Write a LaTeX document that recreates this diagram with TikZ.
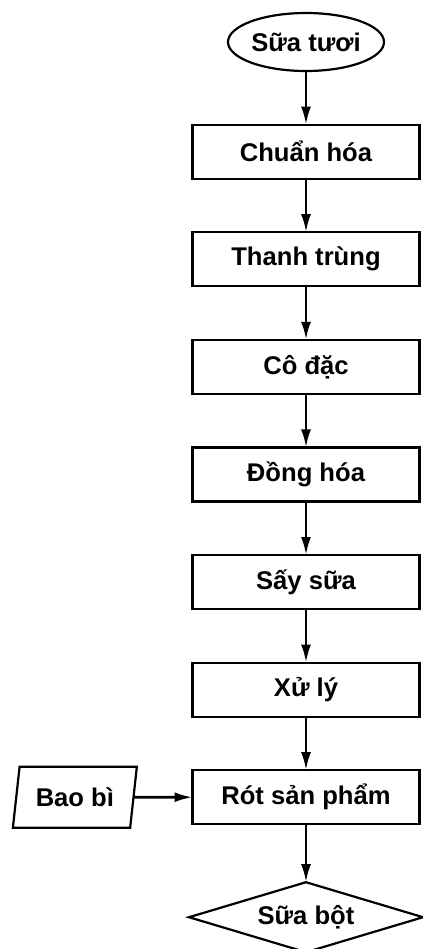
\documentclass[tikz,border=0pt]{standalone}
\usepackage{fontspec}
\setmainfont{Liberation Sans}
\usepackage{tikz}
\usetikzlibrary{positioning, shapes.geometric, arrows.meta}
\tikzstyle{arrow} = [line width=1.3pt, -{Latex[length=9pt, width=5pt]}]

\begin{document}
\begin{tikzpicture}[x=0.5pt, y=-0.5pt, node distance=26.8pt,
    box/.style={rectangle, draw, line width=1.1pt, outer sep=0pt, minimum width=113.5pt, minimum height=27pt, inner sep=0pt, font=\bfseries\fontsize{12.8}{15}\selectfont},
    start/.style={ellipse, draw, line width=1.1pt, outer sep=0pt, minimum width=78pt, minimum height=29pt, inner sep=0pt, font=\bfseries\fontsize{12.8}{15}\selectfont},
    input/.style={trapezium, draw, line width=1.1pt, outer sep=0pt, trapezium left angle=76, trapezium right angle=104, trapezium stretches=true, minimum width=62pt, minimum height=30.5pt, inner sep=0pt, font=\bfseries\fontsize{12.8}{15}\selectfont},
    product/.style={diamond, draw, line width=1.1pt, outer sep=0pt, aspect=3.3, minimum width=117pt, minimum height=35pt, inner sep=0pt, font=\bfseries\fontsize{12.8}{15}\selectfont}]
    \useasboundingbox (0,0) rectangle (423,949);

    % Main line
    \node[start] (milk) at (306,42) {Sữa tươi};
    \node[box, below=of milk] (standard) {Chuẩn hóa};
    \node[box, below=of standard] (pasteur) {Thanh trùng};
    \node[box, below=of pasteur] (concentrate) {Cô đặc};
    \node[box, below=of concentrate] (homog) {Đồng hóa};
    \node[box, below=of homog] (dry) {Sấy sữa};
    \node[box, below=of dry] (treat) {Xử lý};
    \node[box, below=of treat] (filling) {Rót sản phẩm};
    \node[product, below=29pt of filling] (powder) {Sữa bột};

    % Packaging input
    \node[input, left=29.5pt of filling] (pack) {Bao bì};

    % Arrows
    \draw[arrow] (milk) -- (standard);
    \draw[arrow] (standard) -- (pasteur);
    \draw[arrow] (pasteur) -- (concentrate);
    \draw[arrow] (concentrate) -- (homog);
    \draw[arrow] (homog) -- (dry);
    \draw[arrow] (dry) -- (treat);
    \draw[arrow] (treat) -- (filling);
    \draw[arrow] (filling) -- (powder);
    \draw[arrow] (pack) -- (filling);

\end{tikzpicture}
\end{document}
